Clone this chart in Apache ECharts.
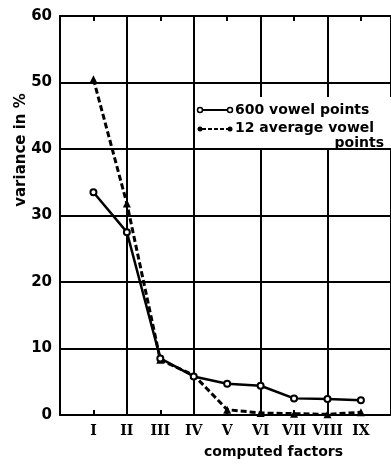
<!DOCTYPE html>
<html><head><meta charset="utf-8">
<script src="https://cdn.jsdelivr.net/npm/echarts@6/dist/echarts.min.js"></script>
<style>html,body{margin:0;padding:0;background:#fff}#c{width:391px;height:464px}</style>
</head><body><div id="c"></div>
<script>
const factors = ['I','II','III','IV','V','VI','VII','VIII','IX'];
const vowel600 = [33.5, 27.5, 8.5, 5.8, 4.7, 4.4, 2.5, 2.4, 2.2];
const avg12 = [50.5, 31.8, 8.3, 6.0, 0.8, 0.3, 0.2, 0.1, 0.4];
const yTicks = [0, 10, 20, 30, 40, 50, 60];
const seriesNames = ['600 vowel points', '12 average vowel'];

const chart = echarts.init(document.getElementById('c'));
const toPts = arr => arr.map((v, i) => [i + 1, v]);
const F = '"DejaVu Sans", sans-serif';
const xCommon = { type: 'value', min: 0, max: 9.9 };
chart.setOption({
  animation: false,
  grid: { left: 60, top: 16, right: 0, bottom: 43, show: false, containLabel: false },
  xAxis: [Object.assign({}, xCommon, {
    interval: 1, position: 'bottom',
    axisLine: { lineStyle: { color: '#000', width: 2 } },
    axisTick: { inside: true, length: 5, lineStyle: { color: '#000', width: 2 } },
    axisLabel: { margin: 9, color: '#000', fontFamily: '"DejaVu Serif", serif', fontWeight: 'bold', fontSize: 14,
      showMaxLabel: false, formatter: v => factors[v - 1] || '' },
    splitLine: { show: false },
    name: 'computed factors', nameLocation: 'middle', nameGap: 30,
    nameTextStyle: { color: '#000', fontFamily: F, fontWeight: 'bold', fontSize: 14, padding: [0, 0, 0, 96] }
  }), Object.assign({}, xCommon, {
    interval: 2, position: 'top',
    axisLine: { lineStyle: { color: '#000', width: 2 } },
    axisTick: { show: false }, axisLabel: { show: false },
    splitLine: { show: true, lineStyle: { color: '#000', width: 2 } }
  }), Object.assign({}, xCommon, {
    interval: 1, position: 'top',
    axisLine: { show: false },
    axisTick: { inside: true, length: 5, lineStyle: { color: '#000', width: 2 } },
    axisLabel: { show: false }, splitLine: { show: false }
  })],
  yAxis: {
    type: 'value', min: 0, max: 60, interval: 10,
    axisLine: { show: true, lineStyle: { color: '#000', width: 2 } },
    axisTick: { show: false },
    axisLabel: { color: '#000', fontFamily: F, fontWeight: 'bold', fontSize: 15, margin: 8,
      formatter: v => yTicks.includes(v) ? String(v) : '' },
    splitLine: { show: true, lineStyle: { color: '#000', width: 2 } }
  },
  series: [{
    name: seriesNames[0], type: 'line', data: toPts(vowel600),
    symbol: 'circle', symbolSize: 6, showAllSymbol: true,
    lineStyle: { color: '#000', width: 2.5 },
    itemStyle: { color: '#fff', borderColor: '#000', borderWidth: 2 }, z: 5
  }, {
    name: seriesNames[1], type: 'line', data: toPts(avg12),
    symbol: 'triangle', symbolSize: 8,
    lineStyle: { color: '#000', width: 3, type: [6, 3] },
    itemStyle: { color: '#000' }, z: 4
  }],
  graphic: [
    { type: 'text', x: 21, y: 150, rotation: Math.PI / 2, style: { text: 'variance in %', fill: '#000', font: 'bold 15px "DejaVu Sans"', textAlign: 'center', textVerticalAlign: 'middle' } },
    { type: 'rect', shape: { x: 197, y: 97, width: 200, height: 51 }, style: { fill: '#fff' }, z: 10 },
    { type: 'line', shape: { x1: 202, y1: 110, x2: 228, y2: 110 }, style: { stroke: '#000', lineWidth: 2 }, z: 11 },
    { type: 'circle', shape: { cx: 200, cy: 110, r: 2.5 }, style: { fill: '#fff', stroke: '#000', lineWidth: 1.5 }, z: 12 },
    { type: 'circle', shape: { cx: 230, cy: 110, r: 2.5 }, style: { fill: '#fff', stroke: '#000', lineWidth: 1.5 }, z: 12 },
    { type: 'line', shape: { x1: 202, y1: 129, x2: 228, y2: 129 }, style: { stroke: '#000', lineWidth: 2, lineDash: [4, 2] }, z: 11 },
    { type: 'circle', shape: { cx: 200, cy: 129, r: 2.5 }, style: { fill: '#000' }, z: 12 },
    { type: 'circle', shape: { cx: 230, cy: 129, r: 2.5 }, style: { fill: '#000' }, z: 12 },
    { type: 'text', x: 235, y: 110, style: { text: seriesNames[0], fill: '#000', font: 'bold 14px "DejaVu Sans"', textVerticalAlign: 'middle' }, z: 12 },
    { type: 'text', x: 235, y: 128, style: { text: seriesNames[1], fill: '#000', font: 'bold 14px "DejaVu Sans"', textVerticalAlign: 'middle' }, z: 12 },
    { type: 'text', x: 384, y: 143, style: { text: 'points', fill: '#000', font: 'bold 14px "DejaVu Sans"', textAlign: 'right', textVerticalAlign: 'middle' }, z: 12 }
  ]
});
</script></body></html>
